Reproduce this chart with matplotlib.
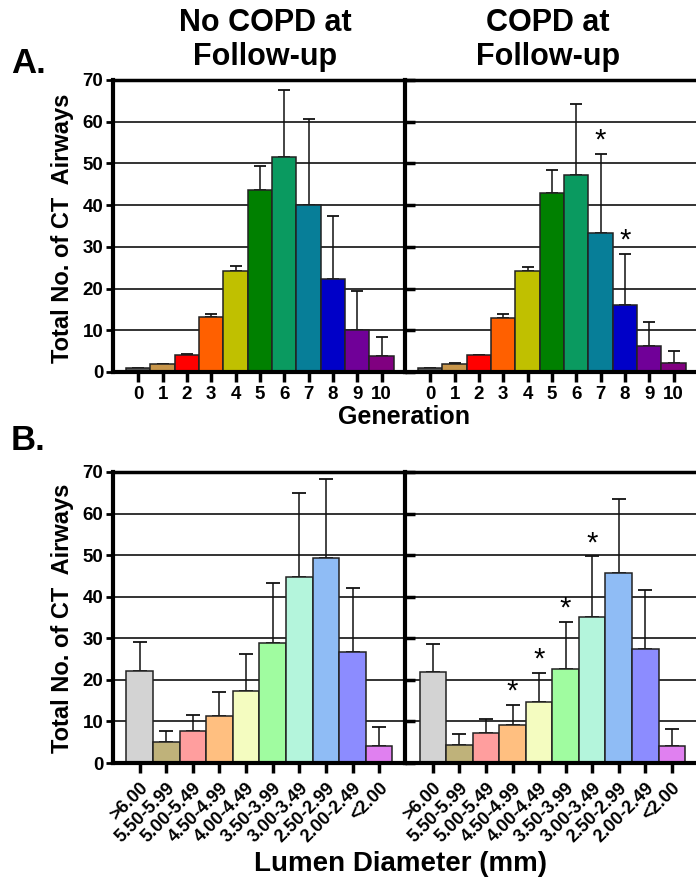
import matplotlib
matplotlib.use("Agg")
import matplotlib.pyplot as plt
import numpy as np

plt.rcParams["font.family"] = ["Liberation Sans", "DejaVu Sans"]
plt.rcParams["font.weight"] = "bold"

# Panel A: airway generation
generations = ["0", "1", "2", "3", "4", "5", "6", "7", "8", "9", "10"]
gen_no_copd = [1.0, 1.9, 4.0, 13.2, 24.2, 43.7, 51.5, 40.1, 22.2, 10.1, 3.8]
gen_no_copd_sd = [0.0, 0.0, 0.2, 0.8, 1.2, 5.6, 16.1, 20.5, 15.2, 9.2, 4.6]
gen_copd = [1.0, 1.9, 4.0, 12.9, 24.1, 42.8, 47.3, 33.3, 16.0, 6.2, 2.1]
gen_copd_sd = [0.0, 0.2, 0.0, 0.9, 1.0, 5.7, 17.0, 19.0, 12.4, 5.8, 2.9]
gen_copd_stars = ["", "", "", "", "", "", "", "*", "*", "", ""]
gen_colors = ["#5a5a5a", "#c8964a", "#ff0000", "#ff6000", "#c0c000", "#008000",
              "#0a9a60", "#077e98", "#0000c8", "#700098", "#800080"]

# Panel B: lumen diameter
diam_labels = [">6.00", "5.50-5.99", "5.00-5.49", "4.50-4.99", "4.00-4.49",
               "3.50-3.99", "3.00-3.49", "2.50-2.99", "2.00-2.49", "<2.00"]
diam_no_copd = [22.2, 5.0, 7.6, 11.2, 17.4, 28.8, 44.8, 49.3, 26.6, 4.0]
diam_no_copd_sd = [7.0, 2.8, 4.0, 5.8, 8.9, 14.4, 20.1, 19.1, 15.5, 4.6]
diam_copd = [21.8, 4.4, 7.1, 9.1, 14.7, 22.5, 35.2, 45.8, 27.5, 4.1]
diam_copd_sd = [6.8, 2.6, 3.5, 4.9, 6.9, 11.5, 14.5, 17.6, 14.2, 4.0]
diam_copd_stars = ["", "", "", "*", "*", "*", "*", "", "", ""]
diam_colors = ["#d3d3d3", "#bfb27a", "#ff9e9e", "#ffbf80", "#f4fcc0",
               "#a0fca0", "#b4f5dc", "#8fbcf5", "#8c8cff", "#e080f0"]

W, H = 696, 886
fig = plt.figure(figsize=(W / 100, H / 100), dpi=100)


def px_axes(left, top, width, height):
    return fig.add_axes([left / W, 1 - (top + height) / H, width / W, height / H])


def draw_panel(ax, labels, vals, sds, colors, stars, xlim, capsize, first, rotate):
    x = np.arange(len(vals))
    ax.bar(x, vals, width=1.0, color=colors, edgecolor="#222222", linewidth=1.1, zorder=2)
    ax.errorbar(x, vals, yerr=[np.zeros(len(sds)), sds], fmt="none", ecolor="#111111",
                elinewidth=1.1, capsize=capsize, capthick=1.3, zorder=1)
    for xi, v, s, st in zip(x, vals, sds, stars):
        if st:
            ax.text(xi, v + s + 3.2, st, ha="center", va="center", fontsize=21,
                    fontweight="normal")
    ax.set_xlim(*xlim)
    ax.set_ylim(0, 70)
    ax.set_yticks(np.arange(0, 71, 10))
    ax.yaxis.grid(True, color="#111111", linewidth=1.2)
    ax.set_axisbelow(True)
    ax.set_xticks(x)
    if rotate:
        ax.set_xticklabels(labels, rotation=45, ha="right", va="top",
                           rotation_mode="anchor", fontsize=13, fontweight="bold")
        ax.tick_params(axis="x", length=7, width=2.5, pad=5)
    else:
        ax.set_xticklabels(labels, fontsize=13.5, fontweight="bold")
        ax.tick_params(axis="x", length=7, width=2.5, pad=3)
    ax.spines["bottom"].set_linewidth(3)
    ax.spines["top"].set_linewidth(2.5)
    ax.spines["left"].set_linewidth(3)
    ax.spines["right"].set_visible(False)
    if first:
        ax.tick_params(axis="y", length=5, width=2, labelsize=13.5, pad=2)
        for t in ax.get_yticklabels():
            t.set_fontweight("bold")
    else:
        ax.tick_params(axis="y", direction="in", length=7, width=2.5, labelleft=False)


ax1 = px_axes(113, 80, 292, 292)
ax2 = px_axes(405, 80, 292, 292)
draw_panel(ax1, generations, gen_no_copd, gen_no_copd_sd, gen_colors, [""] * 11,
           (-1.04, 10.96), 4, True, False)
draw_panel(ax2, generations, gen_copd, gen_copd_sd, gen_colors, gen_copd_stars,
           (-1.04, 10.96), 4, False, False)

ax3 = px_axes(113, 472, 292, 291)
ax4 = px_axes(405, 472, 292, 291)
draw_panel(ax3, diam_labels, diam_no_copd, diam_no_copd_sd, diam_colors, [""] * 10,
           (-1.0, 9.97), 5, True, True)
draw_panel(ax4, diam_labels, diam_copd, diam_copd_sd, diam_colors, diam_copd_stars,
           (-1.05, 9.95), 5, False, True)

ylab = "Total No. of CT  Airways"
fig.text(63 / W, 1 - 228 / H, ylab, rotation=90, ha="center", va="center", fontsize=17)
fig.text(63 / W, 1 - 618 / H, ylab, rotation=90, ha="center", va="center", fontsize=17)

fig.text(265 / W, 1 - 40 / H, "No COPD at\nFollow-up", ha="center", va="center",
         fontsize=22, linespacing=1.15)
fig.text(548 / W, 1 - 40 / H, "COPD at\nFollow-up", ha="center", va="center",
         fontsize=22, linespacing=1.15)
fig.text(11 / W, 1 - 73 / H, "A.", fontsize=25, ha="left", va="baseline")
fig.text(11 / W, 1 - 450 / H, "B.", fontsize=25, ha="left", va="baseline")

fig.text(404 / W, 1 - 417 / H, "Generation", ha="center", va="center", fontsize=18)
fig.text(400 / W, 1 - 864 / H, "Lumen Diameter (mm)", ha="center", va="center", fontsize=20)

fig.savefig("out.png", dpi=100)
